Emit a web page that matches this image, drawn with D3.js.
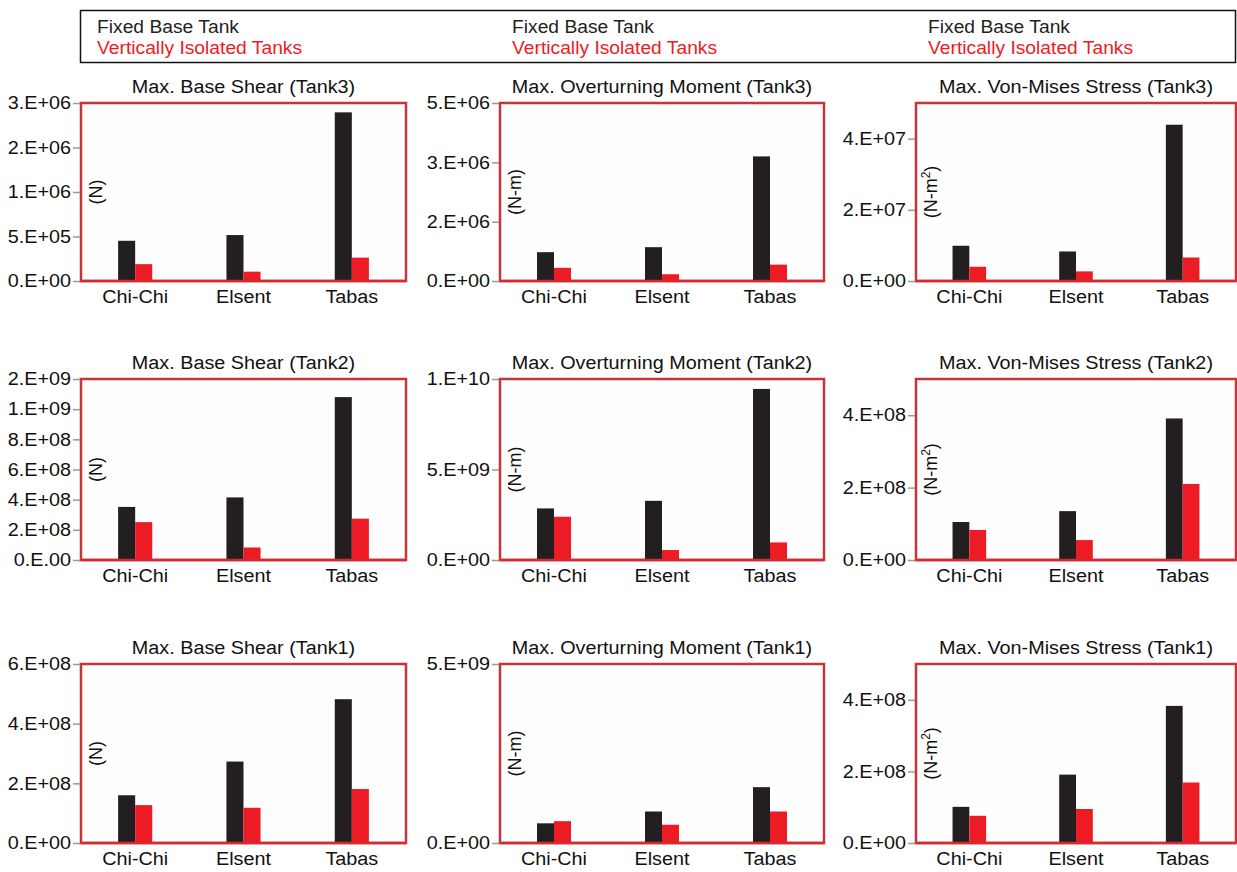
<!DOCTYPE html>
<html>
<head>
<meta charset="utf-8">
<script src="https://cdn.jsdelivr.net/npm/d3@7/dist/d3.min.js"></script>
<style>
  html, body { margin: 0; padding: 0; background: #fff; }
  svg { display: block; }
  text { font-family: "Liberation Sans", Arial, sans-serif; fill: #111; }
</style>
</head>
<body>
<svg id="chart" width="1237" height="872"></svg>
<script>
// ---------------- data ----------------
const categories = ["Chi-Chi", "Elsent", "Tabas"];
const seriesNames = ["Fixed Base Tank", "Vertically Isolated Tanks"];
const seriesColors = ["#231f20", "#ed1c24"];

// Row 1: Tank3
const shearTank3Fixed = [4.52e5, 5.16e5, 1.895e6];
const shearTank3Isolated = [1.89e5, 1.05e5, 2.63e5];
const shearTank3TickValues = [0, 5e5, 1e6, 1.5e6, 2e6];
const shearTank3TickLabels = ["0.E+00", "5.E+05", "1.E+06", "2.E+06", "3.E+06"];

const momentTank3Fixed = [0.81e6, 0.95e6, 3.5e6];
const momentTank3Isolated = [0.37e6, 0.19e6, 0.46e6];
const momentTank3TickValues = [0, 1.667e6, 3.333e6, 5e6];
const momentTank3TickLabels = ["0.E+00", "2.E+06", "3.E+06", "5.E+06"];

const stressTank3Fixed = [9.9e6, 8.3e6, 4.39e7];
const stressTank3Isolated = [4.0e6, 2.7e6, 6.6e6];
const stressTank3TickValues = [0, 2e7, 4e7];
const stressTank3TickLabels = ["0.E+00", "2.E+07", "4.E+07"];
const stressTank3Max = 5e7;

// Row 2: Tank2
const shearTank2Fixed = [3.52e8, 4.15e8, 10.8e8];
const shearTank2Isolated = [2.51e8, 0.83e8, 2.74e8];
const shearTank2TickValues = [0, 2e8, 4e8, 6e8, 8e8, 1e9, 1.2e9];
const shearTank2TickLabels = ["0.E.00", "2.E+08", "4.E+08", "6.E+08", "8.E+08", "1.E+09", "2.E+09"];

const momentTank2Fixed = [2.85e9, 3.27e9, 9.45e9];
const momentTank2Isolated = [2.39e9, 0.55e9, 0.97e9];
const momentTank2TickValues = [0, 5e9, 1e10];
const momentTank2TickLabels = ["0.E+00", "5.E+09", "1.E+10"];

const stressTank2Fixed = [1.05e8, 1.35e8, 3.91e8];
const stressTank2Isolated = [0.83e8, 0.55e8, 2.10e8];
const stressTank2TickValues = [0, 2e8, 4e8];
const stressTank2TickLabels = ["0.E+00", "2.E+08", "4.E+08"];
const stressTank2Max = 5e8;

// Row 3: Tank1
const shearTank1Fixed = [1.60e8, 2.73e8, 4.82e8];
const shearTank1Isolated = [1.27e8, 1.18e8, 1.81e8];
const shearTank1TickValues = [0, 2e8, 4e8, 6e8];
const shearTank1TickLabels = ["0.E+00", "2.E+08", "4.E+08", "6.E+08"];

const momentTank1Fixed = [0.55e9, 0.88e9, 1.56e9];
const momentTank1Isolated = [0.61e9, 0.51e9, 0.88e9];
const momentTank1TickValues = [0, 5e9];
const momentTank1TickLabels = ["0.E+00", "5.E+09"];

const stressTank1Fixed = [1.01e8, 1.91e8, 3.83e8];
const stressTank1Isolated = [0.76e8, 0.95e8, 1.69e8];
const stressTank1TickValues = [0, 2e8, 4e8];
const stressTank1TickLabels = ["0.E+00", "2.E+08", "4.E+08"];
const stressTank1Max = 5e8;

const titles = [
  "Max. Base Shear (Tank3)", "Max. Overturning Moment (Tank3)", "Max. Von-Mises Stress (Tank3)",
  "Max. Base Shear (Tank2)", "Max. Overturning Moment (Tank2)", "Max. Von-Mises Stress (Tank2)",
  "Max. Base Shear (Tank1)", "Max. Overturning Moment (Tank1)", "Max. Von-Mises Stress (Tank1)"
];
const units = ["(N)", "(N-m)", "(N-m2)"];

// ---------------- layout ----------------
const colX = [[81, 406], [500, 824], [916, 1236]];
const rowY = [[103, 281], [379, 560], [664, 843]];
const FONT = 18;
const STRETCH = 1.1;

const panels = [
  [shearTank3Fixed, shearTank3Isolated, shearTank3TickValues, shearTank3TickLabels, d3.max(shearTank3TickValues)],
  [momentTank3Fixed, momentTank3Isolated, momentTank3TickValues, momentTank3TickLabels, d3.max(momentTank3TickValues)],
  [stressTank3Fixed, stressTank3Isolated, stressTank3TickValues, stressTank3TickLabels, stressTank3Max],
  [shearTank2Fixed, shearTank2Isolated, shearTank2TickValues, shearTank2TickLabels, d3.max(shearTank2TickValues)],
  [momentTank2Fixed, momentTank2Isolated, momentTank2TickValues, momentTank2TickLabels, d3.max(momentTank2TickValues)],
  [stressTank2Fixed, stressTank2Isolated, stressTank2TickValues, stressTank2TickLabels, stressTank2Max],
  [shearTank1Fixed, shearTank1Isolated, shearTank1TickValues, shearTank1TickLabels, d3.max(shearTank1TickValues)],
  [momentTank1Fixed, momentTank1Isolated, momentTank1TickValues, momentTank1TickLabels, d3.max(momentTank1TickValues)],
  [stressTank1Fixed, stressTank1Isolated, stressTank1TickValues, stressTank1TickLabels, stressTank1Max]
].map((p, i) => ({
  fixed: p[0], isolated: p[1], tickValues: p[2], tickLabels: p[3], max: p[4],
  title: titles[i], unit: units[i % 3], col: i % 3, row: Math.floor(i / 3)
}));

const svg = d3.select("#chart");
svg.append("rect").attr("width", 1237).attr("height", 872).attr("fill", "#fff");

// ---------------- legend ----------------
const legend = svg.append("g");
legend.append("rect")
  .attr("x", 80.5).attr("y", 10.5).attr("width", 1155).attr("height", 52)
  .attr("fill", "#fff").attr("stroke", "#111").attr("stroke-width", 1.5);
[97, 512, 928].forEach(lx => {
  seriesNames.forEach((name, si) => {
    legend.append("text")
      .attr("class", "stretch")
      .attr("x", lx).attr("y", 33 + si * 21)
      .style("font-size", "17.5px")
      .style("fill", seriesColors[si])
      .text(name);
  });
});

// ---------------- panels ----------------
panels.forEach(p => {
  const [x0, x1] = colX[p.col];
  const [y0, y1] = rowY[p.row];
  const g = svg.append("g");

  const x = d3.scaleBand().domain(categories).range([x0, x1]).padding(0);
  const inner = d3.scaleBand().domain(seriesNames).range([0, x.bandwidth() * 0.315]);
  const y = d3.scaleLinear().domain([0, p.max]).range([y1, y0]);

  // box
  g.append("rect")
    .attr("x", x0).attr("y", y0).attr("width", x1 - x0).attr("height", y1 - y0)
    .attr("fill", "#fefefe").attr("stroke", "#f2b8ba").attr("stroke-width", 3.5);
  g.append("rect")
    .attr("x", x0).attr("y", y0).attr("width", x1 - x0).attr("height", y1 - y0)
    .attr("fill", "none").attr("stroke", "#c1272d").attr("stroke-width", 1.8);

  // bars
  const rows = categories.map((c, i) => ({ cat: c, vals: [p.fixed[i], p.isolated[i]] }));
  const grp = g.selectAll("g.cat").data(rows).join("g")
    .attr("transform", d => `translate(${x(d.cat) + x.bandwidth() / 2 - inner.range()[1] / 2},0)`);
  grp.selectAll("rect").data(d => d.vals.map((v, si) => ({ v, s: seriesNames[si], si })))
    .join("rect")
    .attr("x", d => inner(d.s))
    .attr("width", inner.bandwidth())
    .attr("y", d => y(d.v))
    .attr("height", d => y(0) - y(d.v))
    .attr("fill", d => seriesColors[d.si]);

  // bottom axis line (red)
  g.append("line")
    .attr("x1", x0).attr("x2", x1).attr("y1", y1).attr("y2", y1)
    .attr("stroke", "#d42a30").attr("stroke-width", 2.5);

  // y axis
  const yAxis = d3.axisLeft(y)
    .tickValues(p.tickValues)
    .tickFormat((d, i) => p.tickLabels[i])
    .tickSize(7).tickPadding(2);
  const ya = g.append("g").attr("transform", `translate(${x0 - 1},0)`).call(yAxis);
  ya.select(".domain").remove();
  ya.selectAll(".tick line").attr("stroke", "#999").attr("stroke-width", 1.5);
  ya.selectAll(".tick text")
    .attr("class", "stretch")
    .style("font-size", FONT + "px").style("font-family", "'Liberation Sans', Arial, sans-serif").attr("fill", "#111");

  // x axis labels
  const xAxis = d3.axisBottom(x).tickSize(0).tickPadding(9);
  const xa = g.append("g").attr("transform", `translate(0,${y1})`).call(xAxis);
  xa.select(".domain").remove();
  xa.selectAll(".tick text")
    .attr("class", "stretch")
    .style("font-size", FONT + "px").style("font-family", "'Liberation Sans', Arial, sans-serif").attr("fill", "#111");

  // title
  g.append("text")
    .attr("class", "stretch")
    .attr("x", (x0 + x1) / 2).attr("y", y0 - 10)
    .attr("text-anchor", "middle")
    .style("font-size", FONT + "px")
    .text(p.title);

  // unit label
  const ut = g.append("text")
    .attr("transform", `translate(${x0 + 21},${(y0 + y1) / 2}) rotate(-90)`)
    .attr("text-anchor", "middle")
    .style("font-size", FONT + "px");
  if (p.unit === "(N-m2)") {
    ut.append("tspan").text("(N-m");
    ut.append("tspan").attr("dy", -7).style("font-size", "12px").text("2");
    ut.append("tspan").attr("dy", 7).text(")");
  } else {
    ut.text(p.unit);
  }
});

// horizontal stretch of text to match the reference's wide lettering
svg.selectAll("text.stretch").each(function () {
  const len = this.getComputedTextLength();
  d3.select(this).attr("textLength", len * STRETCH).attr("lengthAdjust", "spacingAndGlyphs");
});
</script>
</body>
</html>
